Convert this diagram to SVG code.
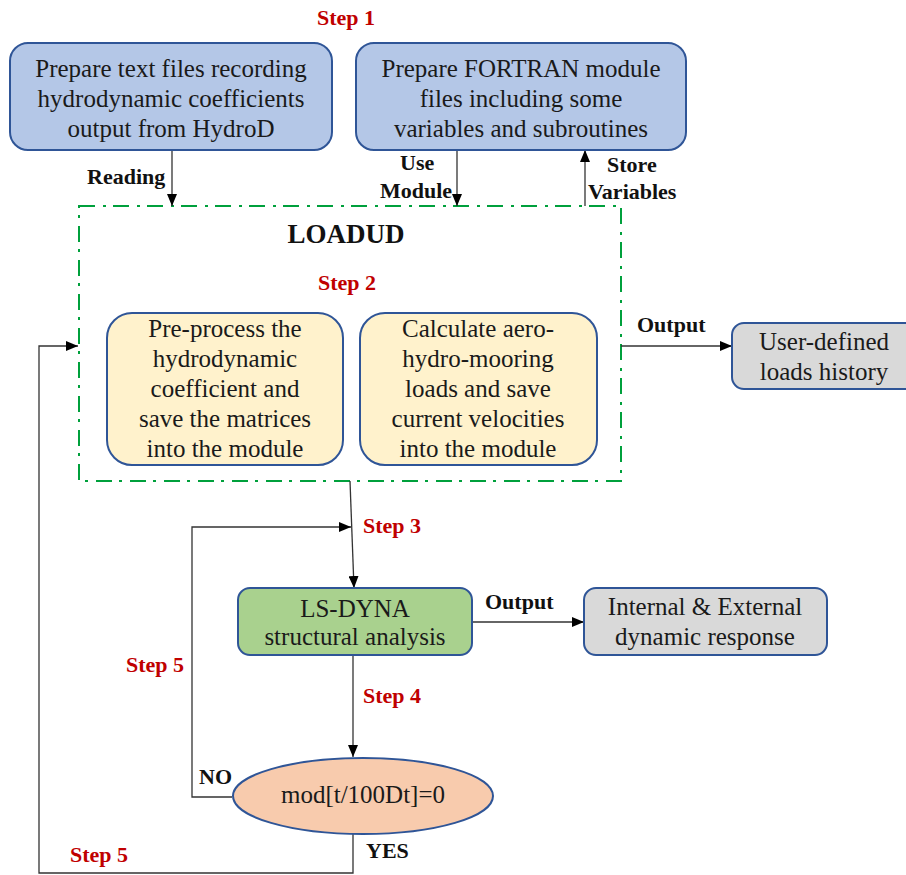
<svg xmlns="http://www.w3.org/2000/svg" width="906" height="875" viewBox="0 0 906 875">
<defs>
<style>
.box{stroke:#2f5597;stroke-width:2}
.blue{fill:#b4c7e7}
.yellow{fill:#fff2cc}
.green{fill:#a9d18e}
.gray{fill:#d9d9d9}
.salmon{fill:#f8cbad}
.t{font-family:"Liberation Serif","Times New Roman",serif;font-size:25px;fill:#1a1a1a;text-anchor:middle}
.lb{font-family:"Liberation Serif","Times New Roman",serif;font-size:22px;font-weight:bold;fill:#111}
.st{font-family:"Liberation Serif","Times New Roman",serif;font-size:22px;font-weight:bold;fill:#c00000}
.ttl{font-family:"Liberation Serif","Times New Roman",serif;font-size:27px;font-weight:bold;fill:#111;text-anchor:middle}
.c{fill:none;stroke:#333;stroke-width:1.3}
</style>
<marker id="ah" viewBox="0 0 12 10" refX="12" refY="5" markerWidth="12" markerHeight="10" orient="auto" markerUnits="userSpaceOnUse">
<path d="M0,0 L12,5 L0,10 z" fill="#000"/>
</marker>
</defs>
<rect width="906" height="875" fill="#fff"/>

<g id="loadud">
<rect x="79" y="206" width="542" height="275" fill="none" stroke="#00a03c" stroke-width="2" stroke-dasharray="16,8,3,7"/>
<text class="ttl" x="346" y="243">LOADUD</text>
</g>

<g id="connectors">
<line class="c" x1="172" y1="150" x2="172" y2="206" marker-end="url(#ah)"/>
<line class="c" x1="457" y1="150" x2="457" y2="206" marker-end="url(#ah)"/>
<line class="c" x1="585" y1="206" x2="585" y2="150" marker-end="url(#ah)"/>
<line class="c" x1="621" y1="346" x2="732" y2="346" marker-end="url(#ah)"/>
<line class="c" x1="350" y1="481" x2="354" y2="588" marker-end="url(#ah)"/>
<polyline class="c" points="232,797 192,797 192,527 351,527" marker-end="url(#ah)"/>
<line class="c" x1="472" y1="622" x2="584" y2="622" marker-end="url(#ah)"/>
<line class="c" x1="353" y1="655" x2="353" y2="757" marker-end="url(#ah)"/>
<polyline class="c" points="353,834 353,873 39,873 39,346 78,346" marker-end="url(#ah)"/>
</g>

<g id="labels">
<text class="lb" x="87" y="184">Reading</text>
<text class="lb" x="400" y="170">Use</text>
<text class="lb" x="380" y="198">Module</text>
<text class="lb" x="607" y="172">Store</text>
<text class="lb" x="588" y="199">Variables</text>
<text class="lb" x="637" y="332">Output</text>
<text class="lb" x="485" y="609">Output</text>
<text class="lb" x="199" y="784">NO</text>
<text class="lb" x="366" y="858">YES</text>
<text class="st" x="317" y="25">Step 1</text>
<text class="st" x="318" y="290">Step 2</text>
<text class="st" x="363" y="533">Step 3</text>
<text class="st" x="363" y="703">Step 4</text>
<text class="st" x="126" y="672">Step 5</text>
<text class="st" x="70" y="862">Step 5</text>
</g>

<g id="hydrod">
<rect class="box blue" x="10" y="43" width="322" height="107" rx="18"/>
<text class="t" x="171" y="77">Prepare text files recording</text>
<text class="t" x="171" y="107">hydrodynamic coefficients</text>
<text class="t" x="171" y="137">output from HydroD</text>
</g>

<g id="fortran">
<rect class="box blue" x="356" y="43" width="330" height="107" rx="18"/>
<text class="t" x="521" y="77">Prepare FORTRAN module</text>
<text class="t" x="521" y="107">files including some</text>
<text class="t" x="521" y="137">variables and subroutines</text>
</g>

<g id="preprocess">
<rect class="box yellow" x="107" y="313" width="236" height="152" rx="25"/>
<text class="t" x="225" y="337">Pre-process the</text>
<text class="t" x="225" y="367">hydrodynamic</text>
<text class="t" x="225" y="397">coefficient and</text>
<text class="t" x="225" y="427">save the matrices</text>
<text class="t" x="225" y="457">into the module</text>
</g>

<g id="calculate">
<rect class="box yellow" x="360" y="313" width="237" height="152" rx="25"/>
<text class="t" x="478" y="337">Calculate aero-</text>
<text class="t" x="478" y="367">hydro-mooring</text>
<text class="t" x="478" y="397">loads and save</text>
<text class="t" x="478" y="427">current velocities</text>
<text class="t" x="478" y="457">into the module</text>
</g>

<g id="userdefined">
<rect class="box gray" x="732" y="323" width="190" height="66" rx="12"/>
<text class="t" x="824" y="350">User-defined</text>
<text class="t" x="824" y="380">loads history</text>
</g>

<g id="lsdyna">
<rect class="box green" x="238" y="588" width="234" height="67" rx="12"/>
<text class="t" x="355" y="617">LS-DYNA</text>
<text class="t" x="355" y="645">structural analysis</text>
</g>

<g id="response">
<rect class="box gray" x="584" y="588" width="243" height="67" rx="12"/>
<text class="t" x="705" y="615">Internal &amp; External</text>
<text class="t" x="705" y="645">dynamic response</text>
</g>

<g id="decision">
<ellipse class="box salmon" cx="363" cy="796" rx="130" ry="38"/>
<text class="t" x="363" y="803">mod[t/100Dt]=0</text>
</g>
</svg>
